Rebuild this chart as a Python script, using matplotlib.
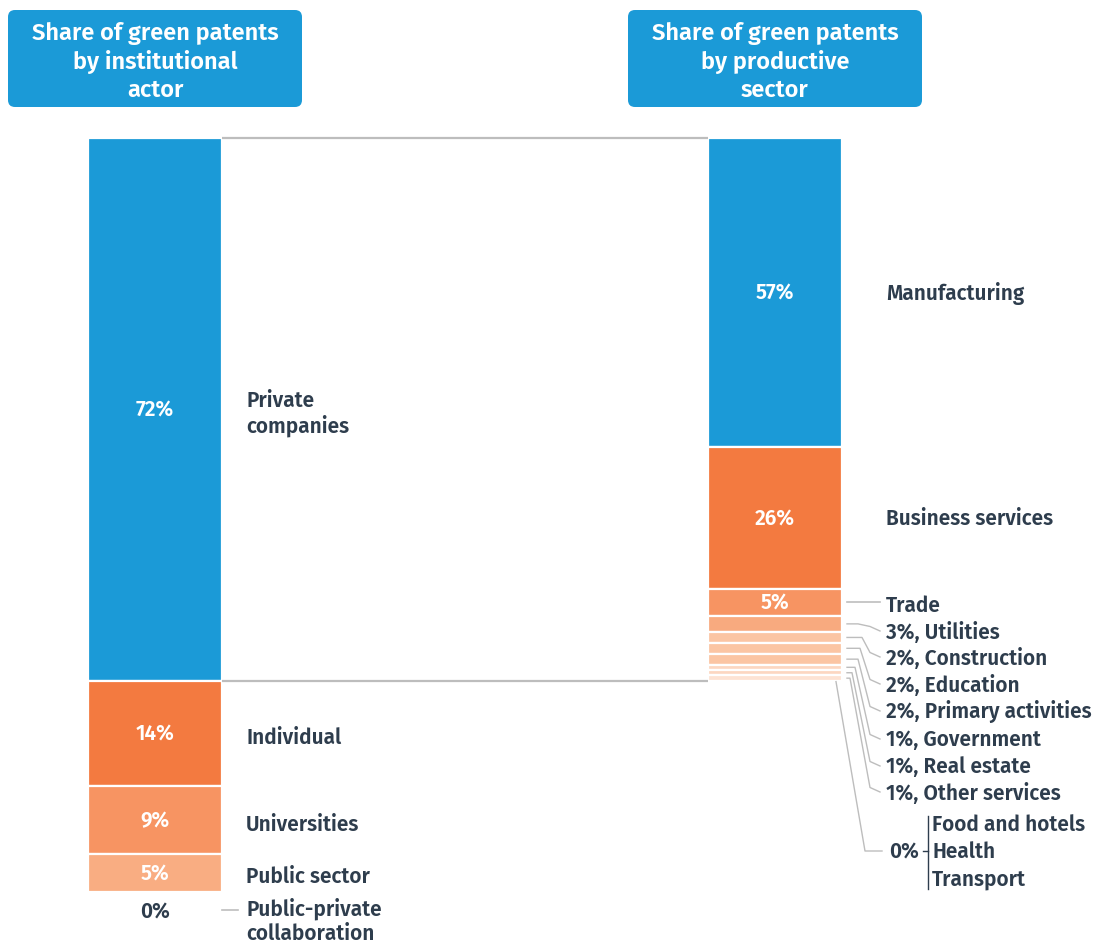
import matplotlib
matplotlib.use("Agg")
import matplotlib.pyplot as plt
from matplotlib.patches import FancyBboxPatch
from matplotlib.transforms import IdentityTransform
import numpy as np

# ---------------- data ----------------
actors = ["Private\ncompanies", "Individual", "Universities", "Public sector", "Public-private\ncollaboration"]
actor_share = [72, 14, 9, 5, 0]
actor_colors = ["#1b9ad7", "#f37a40", "#f79462", "#f9ad82", "#fde4d5"]

sectors = ["Manufacturing", "Business services", "Trade", "Utilities", "Construction",
           "Education", "Primary activities", "Government", "Real estate", "Other services",
           "Food and hotels", "Health", "Transport"]
sector_share = [57, 26, 5, 3, 2, 2, 2, 1, 1, 1, 0, 0, 0]
sector_colors = ["#1b9ad7", "#f37a40", "#f79462", "#f8aa7f", "#fbc5a3", "#fbc5a3", "#fbc5a3",
                 "#fcd7c1", "#fcd7c1", "#fde3d4", "#fde3d4", "#fde3d4", "#fde3d4"]

title_left = "Share of green patents\nby institutional\nactor"
title_right = "Share of green patents\nby productive\nsector"

# ---------------- style ----------------
FONT = ["Fira Sans", "Open Sans", "DejaVu Sans"]
plt.rcParams["font.family"] = FONT
TXT = "#2e3d4d"
GRAY = "#bdbdbd"
FS = 15
FW = "semibold"

W, H = 1100, 945
fig = plt.figure(figsize=(W / 100, H / 100), dpi=100)
ax = fig.add_axes([0, 0, 1, 1])

# layout: y in "percent of all green patents" units; pixel mapping only for layout
TOP_PX, BOT_PX = 139, 893
PXU = (BOT_PX - TOP_PX) / 100.0


def py(p):
    return (p - TOP_PX) / PXU


ax.set_xlim(0, W)
ax.set_ylim(py(H), py(0))
ax.axis("off")

LX, RX = 155, 775  # bar centres
BW = 134

# ---------------- left bar ----------------
lcum = np.concatenate([[0], np.cumsum(actor_share)[:-1]])
for v, b, c in zip(actor_share, lcum, actor_colors):
    if v > 0:
        ax.bar(LX, v, bottom=b, width=BW, color=c, edgecolor="white", linewidth=1.6)

lab_x = 246
for i, (name, v, b) in enumerate(zip(actors, actor_share, lcum)):
    yc = b + v / 2
    if v > 0:
        ax.text(LX, yc, f"{v}%", color="white", ha="center", va="center",
                fontsize=FS, fontweight=FW)
        ax.text(lab_x, yc + 0.4, name, color=TXT, ha="left", va="center",
                fontsize=FS, fontweight=FW, linespacing=1.2)
    else:
        ylab = py(912)
        ax.text(LX, ylab, f"{v}%", color=TXT, ha="center", va="center",
                fontsize=FS, fontweight=FW)
        ax.plot([222, 238], [ylab - 0.1, ylab - 0.1], color=GRAY, lw=1.2)
        ax.text(lab_x, py(921), name, color=TXT, ha="left", va="center",
                fontsize=FS, fontweight=FW, linespacing=1.15)

# ---------------- right bar (breakdown of private companies) ----------------
scale = actor_share[0] / 100.0
rvals = [v * scale for v in sector_share]
rcum = np.concatenate([[0], np.cumsum(rvals)[:-1]])
for v, b, c in zip(rvals, rcum, sector_colors):
    if v > 0:
        ax.bar(RX, v, bottom=b, width=BW, color=c, edgecolor="white", linewidth=1.6)

# connecting lines between the bars
ax.plot([222, 708], [0, 0], color=GRAY, lw=1.6, solid_capstyle="butt")
ax.plot([222, 708], [actor_share[0], actor_share[0]], color=GRAY, lw=1.6,
        solid_capstyle="butt")

rlab_x = 886
for i in range(2):
    yc = rcum[i] + rvals[i] / 2
    ax.text(RX, yc, f"{sector_share[i]}%", color="white", ha="center", va="center",
            fontsize=FS, fontweight=FW)
    ax.text(rlab_x, yc, sectors[i], color=TXT, ha="left", va="center",
            fontsize=FS, fontweight=FW)

# Trade
yc = rcum[2] + rvals[2] / 2
ax.text(RX, yc, f"{sector_share[2]}%", color="white", ha="center", va="center",
        fontsize=FS, fontweight=FW)
ax.text(rlab_x, py(606), sectors[2], color=TXT, ha="left", va="center",
        fontsize=FS, fontweight=FW)
ax.plot([847, 880], [yc, yc], color=GRAY, lw=1.2)

# small segments with elbow connectors
label_px = [632, 658, 685, 712, 740, 767, 793]
elbow_x = [858, 862, 860, 858, 855, 852, 850]
for k, idx in enumerate(range(3, 10)):
    yc = rcum[idx] + rvals[idx] / 2
    yl = py(label_px[k])
    ax.text(rlab_x, yl, f"{sector_share[idx]}%, {sectors[idx]}", color=TXT,
            ha="left", va="center", fontsize=FS, fontweight=FW)
    ex = elbow_x[k]
    ax.plot([847, ex, 870, 880], [yc, yc, yl - 0.6, yl], color=GRAY, lw=1.0)

# zero sectors grouped
yz = py(852)
ax.text(904, yz, f"{sector_share[10]}%", color=TXT, ha="center", va="center",
        fontsize=FS, fontweight=FW)
ax.plot([836, 865, 882], [actor_share[0] + 0.1, yz, yz], color=GRAY, lw=1.0)
ax.plot([928, 928], [py(817), py(890)], color=TXT, lw=1.0)
ax.plot([923, 928], [yz, yz], color=TXT, lw=1.0)
for name, p in zip(sectors[10:], [825, 852, 879]):
    ax.text(932, py(p), name, color=TXT, ha="left", va="center",
            fontsize=FS, fontweight=FW)

# ---------------- title boxes ----------------
for x0, txt in [(8, title_left), (628, title_right)]:
    box = FancyBboxPatch((x0, H - 108), 294, 97,
                         boxstyle="round,pad=0,rounding_size=7",
                         facecolor="#1b9ad7", edgecolor="none",
                         transform=IdentityTransform(), zorder=1)
    fig.add_artist(box)
    fig.text((x0 + 147) / W, 1 - 62 / H, txt, color="white", ha="center", va="center",
             fontsize=17, fontweight=FW, linespacing=1.25, zorder=5)

fig.savefig("out.png", dpi=100, facecolor="white")
